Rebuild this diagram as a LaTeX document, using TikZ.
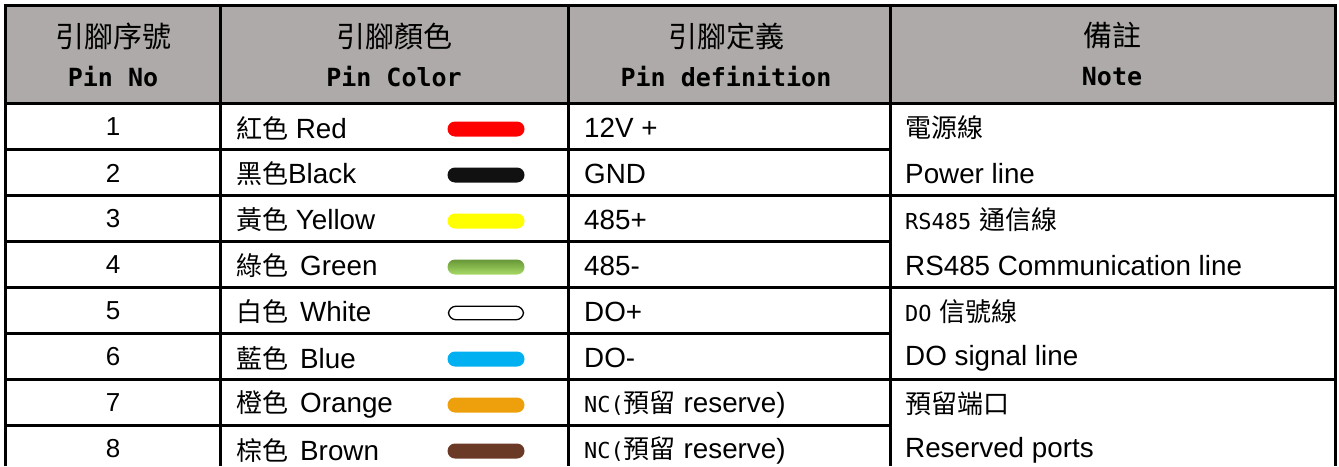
\documentclass[tikz,border=0pt]{standalone}
\usepackage{fontspec}
\setmainfont{Liberation Sans}
\setmonofont{DejaVu Sans Mono}
\newfontfamily\cjk{Noto Sans CJK TC}
\definecolor{headgray}{HTML}{AEAAA9}
\definecolor{wirered}{HTML}{FF0000}
\definecolor{wireblack}{HTML}{111111}
\definecolor{wireyellow}{HTML}{FFFF00}
\definecolor{wiregreentop}{HTML}{679737}
\definecolor{wiregreenbot}{HTML}{A8DA66}
\definecolor{wireblue}{HTML}{00B0F0}
\definecolor{wireorange}{HTML}{EEA00C}
\definecolor{wirebrown}{HTML}{6B3A26}
\newcommand{\zh}[1]{{\cjk\fontsize{26}{26}\selectfont #1}}
\newcommand{\nm}[1]{{\ttfamily\fontsize{22}{22}\selectfont #1}}

\begin{document}
\begin{tikzpicture}[x=1pt,y=-1pt,
	cell/.style={anchor=west, inner sep=0pt, font=\fontsize{27.8}{28}\selectfont},
	num/.style={inner sep=0pt, font=\fontsize{26}{26}\selectfont},
	headzh/.style={inner sep=0pt, font=\cjk\fontsize{29}{29}\selectfont},
	headen/.style={inner sep=0pt, font=\ttfamily\bfseries\fontsize{25}{25}\selectfont},
	pill/.style={rounded corners=7.5pt, minimum width=77pt, minimum height=15pt, inner sep=0pt},
	grid/.style={line width=3pt}]
		\useasboundingbox (0,0) rectangle (1339,466);
		\fill[headgray] (5,5) rectangle (1335,103);

		% header
		\node[headzh] (hpinzh) at (113,36) {引腳序號};
		\node[headen] (hpinen) at (113,77) {Pin No};
		\node[headzh] (hcolzh) at (394,36) {引腳顏色};
		\node[headen] (hcolen) at (394,77) {Pin Color};
		\node[headzh] (hdefzh) at (726,36) {引腳定義};
		\node[headen] (hdefen) at (726,77) {Pin definition};
		\node[headzh] (hnotezh) at (1112,36) {備註};
		\node[headen] (hnoteen) at (1112,77) {Note};

		% pin numbers
		\foreach \n in {1,...,8}
			\node[num] (pin\n) at (113,{81+46*\n}) {\n};

		% pin colours
		\node[cell] (col1) at (236,128) {\zh{紅色} Red};
		\node[cell] (col2) at (236,174) {\zh{黑色}Black};
		\node[cell] (col3) at (236,220) {\zh{黃色} Yellow};
		\node[cell] (col4) at (236,266) {\zh{綠色}\hspace{12pt}Green};
		\node[cell] (col5) at (236,312) {\zh{白色}\hspace{12pt}White};
		\node[cell] (col6) at (236,358) {\zh{藍色}\hspace{12pt}Blue};
		\node[cell] (col7) at (236,404) {\zh{橙色}\hspace{12pt}Orange};
		\node[cell] (col8) at (236,450) {\zh{棕色}\hspace{12pt}Brown};

		\node[pill, fill=wirered] (wire1) at (486,129) {};
		\node[pill, fill=wireblack] (wire2) at (486,175) {};
		\node[pill, fill=wireyellow] (wire3) at (486,221) {};
		\node[pill, top color=wiregreentop, bottom color=wiregreenbot] (wire4) at (486,267) {};
		\node[pill, draw, fill=white, line width=1.3pt, minimum width=75pt, minimum height=13.5pt] (wire5) at (486,313) {};
		\node[pill, fill=wireblue] (wire6) at (486,359) {};
		\node[pill, fill=wireorange] (wire7) at (486,405) {};
		\node[pill, fill=wirebrown] (wire8) at (486,451) {};

		% pin definitions
		\node[cell] (def1) at (584,128) {12V +};
		\node[cell] (def2) at (584,174) {GND};
		\node[cell] (def3) at (584,220) {485+};
		\node[cell] (def4) at (584,266) {485-};
		\node[cell] (def5) at (584,312) {DO+};
		\node[cell] (def6) at (584,358) {DO-};
		\node[cell] (def7) at (584,404) {\nm{NC(}\zh{預留} reserve)};
		\node[cell] (def8) at (584,450) {\nm{NC(}\zh{預留} reserve)};

		% notes
		\node[cell] (note1) at (905,128) {\zh{電源線}};
		\node[cell] (note2) at (905,174) {Power line};
		\node[cell] (note3) at (905,220) {\nm{RS485} \zh{通信線}};
		\node[cell] (note4) at (905,266) {RS485 Communication line};
		\node[cell] (note5) at (905,312) {\nm{DO} \zh{信號線}};
		\node[cell] (note6) at (905,358) {DO signal line};
		\node[cell] (note7) at (905,404) {\zh{預留端口}};
		\node[cell] (note8) at (905,450) {Reserved ports};

		% grid lines
		\draw[grid] (5,466) -- (5,5) -- (1335,5) -- (1335,466);
		\foreach \x in {220,568,890}
			\draw[grid] (\x,5) -- (\x,466);
		\foreach \y in {103,195,287,379}
			\draw[grid] (5,\y) -- (1335,\y);
		\foreach \y in {149,241,333,425}
			\draw[grid] (5,\y) -- (890,\y);
	\end{tikzpicture}
\end{document}
